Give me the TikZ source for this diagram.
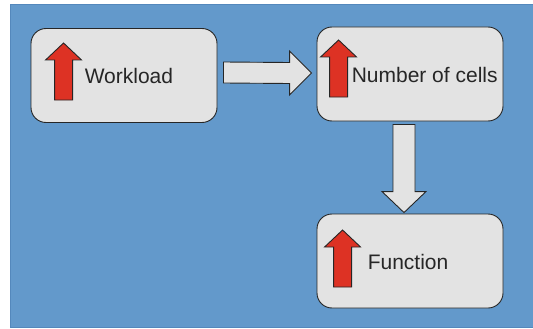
\documentclass[tikz,border=0pt]{standalone}
\usepackage{fontspec}
\setmainfont{Liberation Sans}
\usepackage{tikz}
\usetikzlibrary{calc, positioning}
\definecolor{fondoaz}{RGB}{99, 153, 203}
\definecolor{bordeaz}{RGB}{84, 136, 188}
\definecolor{grisclaro}{RGB}{227, 227, 227}
\definecolor{rojo}{RGB}{221, 50, 36}
\tikzset{
    caja/.style={draw=black!85, fill=grisclaro, line width=0.9pt, rounded corners=15pt,
                 minimum width=186pt, minimum height=94pt, inner sep=0pt},
    texto/.style={anchor=west, inner sep=0pt, font=\fontsize{21}{25}\selectfont, text=black!85},
    flechagrande/.style={draw=black!85, fill=grisclaro, line width=0.9pt, line join=miter},
    flecharoja/.style={draw=black!85, fill=rojo, line width=0.9pt, line join=miter}
}
\newcommand{\Sube}[1]{% flecha roja hacia arriba, #1 = punto de abajo
    \draw[flecharoja] ($(#1)+(-9,0)$) -- ($(#1)+(-9,-40)$) -- ($(#1)+(-18,-40)$)
        -- ($(#1)+(0,-57)$) -- ($(#1)+(18,-40)$) -- ($(#1)+(9,-40)$) -- ($(#1)+(9,0)$) -- cycle;}

\begin{document}
\begin{tikzpicture}[x=1pt, y=-1pt]
        \useasboundingbox (0,0) rectangle (533,329);
        % Fondo
        \draw[fill=fondoaz, draw=bordeaz, line width=0.8pt] (10,4) rectangle (533,327);

        % Cajas
        \node[caja] (carga) at (124,75.5) {};
        \node[caja] (celulas) at (410,74) {};
        \node[caja] (funcion) at (410,261) {};

        % Textos
        \node[texto] (tcarga) at ($(carga.west)+(54,0)$) {Workload};
        \node[texto] (tcelulas) at ($(celulas.west)+(35,1)$) {Number of cells};
        \node[texto] (tfuncion) at ($(funcion.west)+(51,1)$) {Function};

        % Flechas rojas
        \coordinate (r1) at ($(carga.west)+(33,24.5)$);
        \coordinate (r2) at ($(celulas.west)+(22,23)$);
        \coordinate (r3) at ($(funcion.west)+(26,26)$);
        \Sube{r1}
        \Sube{r2}
        \Sube{r3}

        % Flecha de carga a celulas
        \coordinate (a1) at ($(carga.east)+(6,-3)$);
        \coordinate (a2) at ($(celulas.west)+(-5,-1)$);
        \draw[flechagrande] ($(a1)+(0,-10.5)$) -- ($(a2)+(-22,-10.5)$) -- ($(a2)+(-22,-22)$)
            -- (a2) -- ($(a2)+(-22,22)$) -- ($(a2)+(-22,10.5)$) -- ($(a1)+(0,10.5)$) -- cycle;

        % Flecha de celulas a funcion
        \coordinate (b1) at ($(celulas.south)+(-6,3)$);
        \coordinate (b2) at ($(funcion.north)+(-6,-1)$);
        \draw[flechagrande] ($(b1)+(-11,0)$) -- ($(b2)+(-11,-21)$) -- ($(b2)+(-22,-21)$)
            -- (b2) -- ($(b2)+(22,-21)$) -- ($(b2)+(11,-21)$) -- ($(b1)+(11,0)$) -- cycle;
\end{tikzpicture}
\end{document}
